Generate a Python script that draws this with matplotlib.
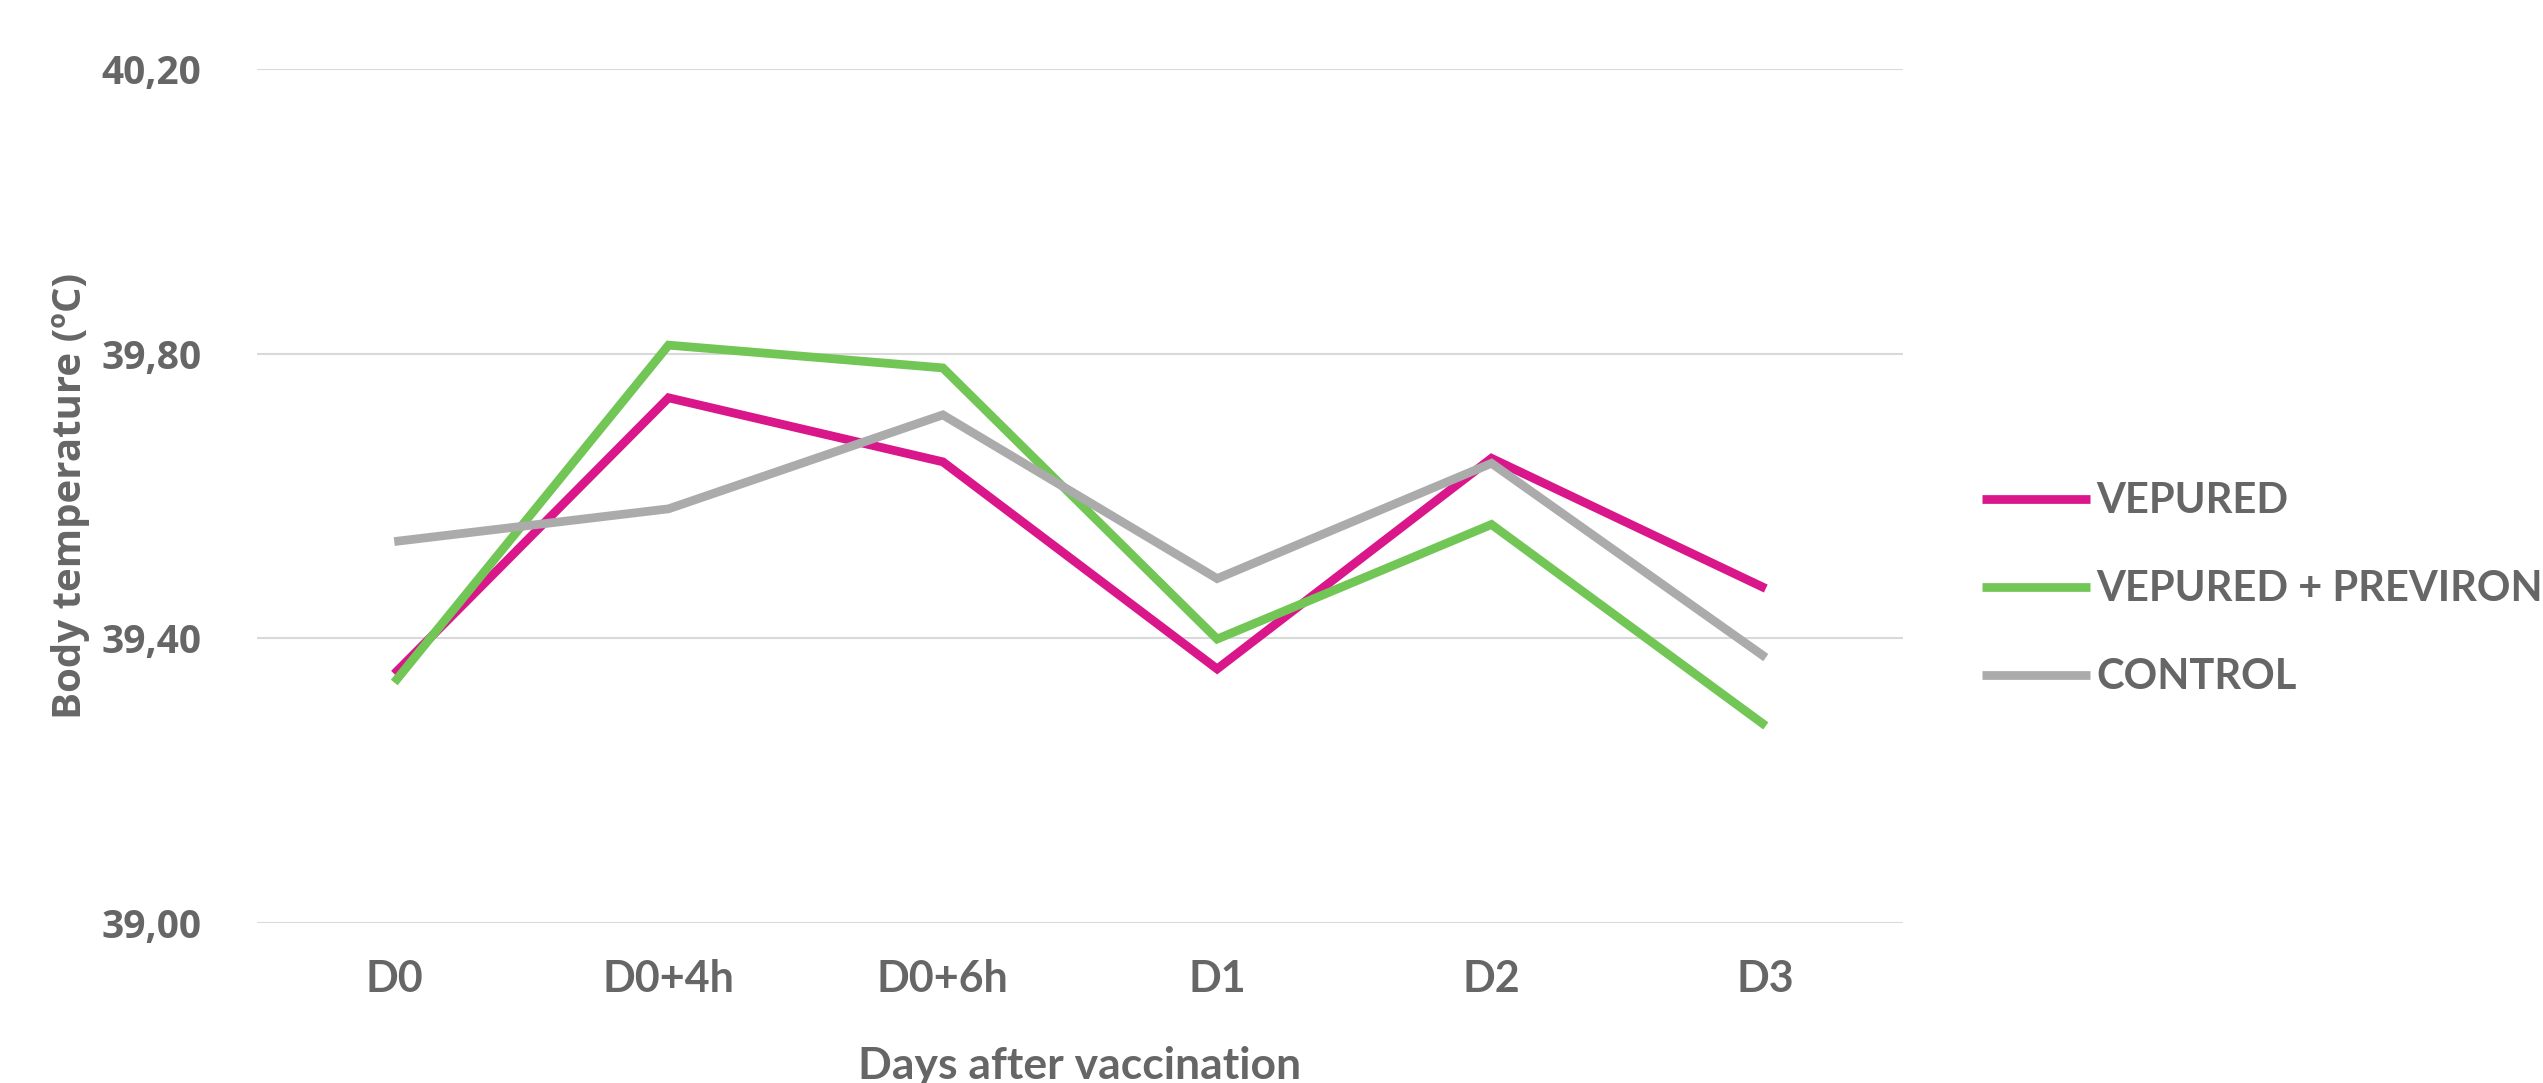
import matplotlib.pyplot as plt
from matplotlib.ticker import FuncFormatter
import numpy as np

# --- Data ---
days = ['D0', 'D0+4h', 'D0+6h', 'D1', 'D2', 'D3']
vepured = [39.350, 39.738, 39.648, 39.357, 39.653, 39.470]
vepured_previron = [39.338, 39.812, 39.780, 39.399, 39.560, 39.277]
control = [39.536, 39.582, 39.714, 39.484, 39.646, 39.373]

series_names = ['VEPURED', 'VEPURED + PREVIRON', 'CONTROL']
colors = ['#D9168A', '#72C655', '#ABABAB']

text_col = '#666666'
narrow = 'Lato'

fig = plt.figure(figsize=(25.43, 10.83), dpi=100)
ax = fig.add_axes([0.1011, 0.1477, 0.6472, 0.7886])

x = np.arange(len(days))
for vals, name, c in zip([vepured, vepured_previron, control], series_names, colors):
    ax.plot(x, vals, color=c, lw=6.3, label=name, solid_capstyle='butt', solid_joinstyle='miter')

ax.set_xlim(-0.5, len(days) - 0.5)
ax.set_ylim(39.0, 40.2)
ax.set_yticks([39.0, 39.4, 39.8, 40.2])
ax.yaxis.set_major_formatter(FuncFormatter(lambda v, p: f'{v:.2f}'.replace('.', ',')))
ax.set_xticks(x)
ax.set_xticklabels(days, fontsize=31, fontweight='bold', color=text_col, family=narrow)
for lbl in ax.get_yticklabels():
    lbl.set_fontsize(28)
    lbl.set_fontweight('bold')
    lbl.set_color(text_col)
    lbl.set_family('Open Sans')

ax.tick_params(axis='both', length=0)
ax.tick_params(axis='x', pad=26)
ax.tick_params(axis='y', pad=40)
ax.grid(axis='y', color='#D9D9D9', lw=1.5)
ax.set_axisbelow(True)
for s in ax.spines.values():
    s.set_visible(False)

ax.set_ylabel('Body temperature (ºC)', fontsize=29, fontweight='bold', color=text_col,
              family='Open Sans', labelpad=8)
ax.set_xlabel('Days after vaccination', fontsize=32, fontweight='bold', color=text_col,
              family=narrow, labelpad=34)

leg = fig.legend(loc='center left', bbox_to_anchor=(0.7794, 0.456), frameon=False,
                 prop={'family': narrow, 'weight': 'bold', 'size': 30},
                 handlelength=2.6, handletextpad=0.15, labelspacing=1.2,
                 borderpad=0, borderaxespad=0)
for t in leg.get_texts():
    t.set_color(text_col)

fig.savefig('out.png', dpi=100)
